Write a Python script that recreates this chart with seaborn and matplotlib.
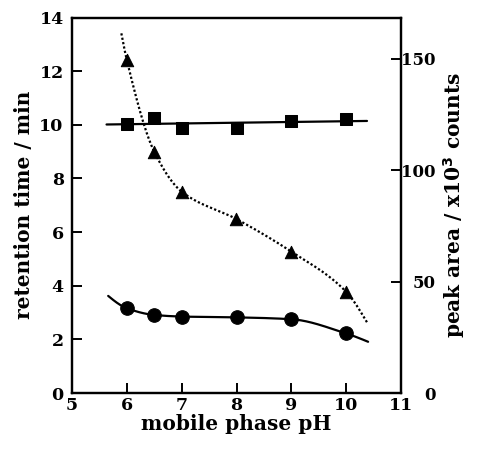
import numpy as np
import pandas as pd
import matplotlib
matplotlib.use("Agg")
import matplotlib.pyplot as plt
import seaborn as sns

# ---- data ----
ph = [6.0, 6.5, 7.0, 8.0, 9.0, 10.0]
rt_square = [10.03, 10.27, 9.88, 9.88, 10.15, 10.21]      # retention time / min
rt_circle = [3.16, 2.91, 2.85, 2.82, 2.75, 2.22]          # retention time / min
area_triangle = [149.3, 108.2, 90.3, 78.0, 63.4, 45.4]    # peak area / x10^3 counts

# extents of the drawn fit curves
square_fit_range = [5.63, 10.38]
circle_curve_ends_ph = [5.66, 10.40]
circle_curve_ends_rt = [3.62, 1.91]
triangle_curve_ends_ph = [5.90, 10.38]
triangle_curve_ends_area = [161.3, 31.7]

x_ticks = [5, 6, 7, 8, 9, 10, 11]
left_ticks = [0, 2, 4, 6, 8, 10, 12, 14]
right_ticks = [0, 50, 100, 150]


def pchip(x, y, xn):
    x = np.asarray(x, float); y = np.asarray(y, float)
    h = np.diff(x); d = np.diff(y) / h
    n = len(x); m = np.zeros(n)
    for k in range(1, n - 1):
        if d[k - 1] * d[k] <= 0:
            m[k] = 0.0
        else:
            w1 = 2 * h[k] + h[k - 1]; w2 = h[k] + 2 * h[k - 1]
            m[k] = (w1 + w2) / (w1 / d[k - 1] + w2 / d[k])
    def endslope(h0, h1, d0, d1):
        s = ((2 * h0 + h1) * d0 - h0 * d1) / (h0 + h1)
        if np.sign(s) != np.sign(d0):
            s = 0.0
        elif np.sign(d0) != np.sign(d1) and abs(s) > abs(3 * d0):
            s = 3 * d0
        return s
    m[0] = endslope(h[0], h[1], d[0], d[1])
    m[-1] = endslope(h[-1], h[-2], d[-1], d[-2])
    xn = np.asarray(xn, float)
    idx = np.clip(np.searchsorted(x, xn) - 1, 0, n - 2)
    t = (xn - x[idx]) / h[idx]
    h00 = 2 * t**3 - 3 * t**2 + 1; h10 = t**3 - 2 * t**2 + t
    h01 = -2 * t**3 + 3 * t**2; h11 = t**3 - t**2
    return h00 * y[idx] + h10 * h[idx] * m[idx] + h01 * y[idx + 1] + h11 * h[idx] * m[idx + 1]


sns.set_style("ticks", {"axes.edgecolor": "black", "text.color": "black",
                        "axes.labelcolor": "black", "xtick.color": "black",
                        "ytick.color": "black"})
plt.rcParams["font.family"] = ["DejaVu Serif"]
plt.rcParams["font.weight"] = "bold"
plt.rcParams["axes.labelweight"] = "bold"

fig = plt.figure(figsize=(4.81, 4.49), dpi=100)
ax = fig.add_axes([72 / 481, 1 - 393 / 449, (401 - 72) / 481, (393 - 17.5) / 449])
ax2 = ax.twinx()

# squares + linear fit
coef = np.polyfit(ph, rt_square, 1)
xs = np.linspace(square_fit_range[0], square_fit_range[1], 50)
sns.lineplot(x=xs, y=np.polyval(coef, xs), ax=ax, color="black", lw=1.6)
sns.scatterplot(x=ph, y=rt_square, ax=ax, marker="s", s=85, color="black",
                edgecolor="black", zorder=5)

# circles + smooth curve
cx = [circle_curve_ends_ph[0]] + ph + [circle_curve_ends_ph[1]]
cy = [circle_curve_ends_rt[0]] + rt_circle + [circle_curve_ends_rt[1]]
xc = np.linspace(cx[0], cx[-1], 300)
sns.lineplot(x=xc, y=pchip(cx, cy, xc), ax=ax, color="black", lw=1.6)
sns.scatterplot(x=ph, y=rt_circle, ax=ax, marker="o", s=95, color="black",
                edgecolor="black", zorder=5)

# triangles (right axis) + dotted curve
tx = [triangle_curve_ends_ph[0]] + ph + [triangle_curve_ends_ph[1]]
ty = [triangle_curve_ends_area[0]] + area_triangle + [triangle_curve_ends_area[1]]
xt = np.linspace(tx[0], tx[-1], 400)
sns.lineplot(x=xt, y=pchip(tx, ty, xt), ax=ax2, color="black", lw=1.6,
             linestyle=(0, (1, 1)))
sns.scatterplot(x=ph, y=area_triangle, ax=ax2, marker="^", s=80, color="black",
                edgecolor="black", zorder=5)

ax.set_xlim(5, 11)
ax.set_ylim(0, 14)
ax2.set_ylim(0, 168.4)
ax.set_xticks(x_ticks)
ax.set_yticks(left_ticks)
ax2.set_yticks(right_ticks)

fs = 12.5
lfs = 14.5
ax.set_xlabel("mobile phase pH", fontsize=lfs, fontweight="bold", labelpad=0)
ax.set_ylabel("retention time / min", fontsize=lfs, fontweight="bold", labelpad=4)
ax2.set_ylabel("peak area / x10$^{\\mathbf{3}}$ counts", fontsize=lfs,
               fontweight="bold", labelpad=4)

for a in (ax, ax2):
    for s in a.spines.values():
        s.set_linewidth(1.6)
        s.set_visible(True)
        s.set_color("black")
    a.tick_params(direction="in", length=7, width=1.4, labelsize=fs, colors="black")
    for lab in a.get_xticklabels() + a.get_yticklabels():
        lab.set_fontweight("bold")
ax.tick_params(axis="x", pad=3)
ax.tick_params(axis="y", pad=6)
ax2.tick_params(axis="y", pad=25, labelsize=12)
for lab in ax2.get_yticklabels():
    lab.set_horizontalalignment("right")

fig.savefig("out.png", dpi=100)
